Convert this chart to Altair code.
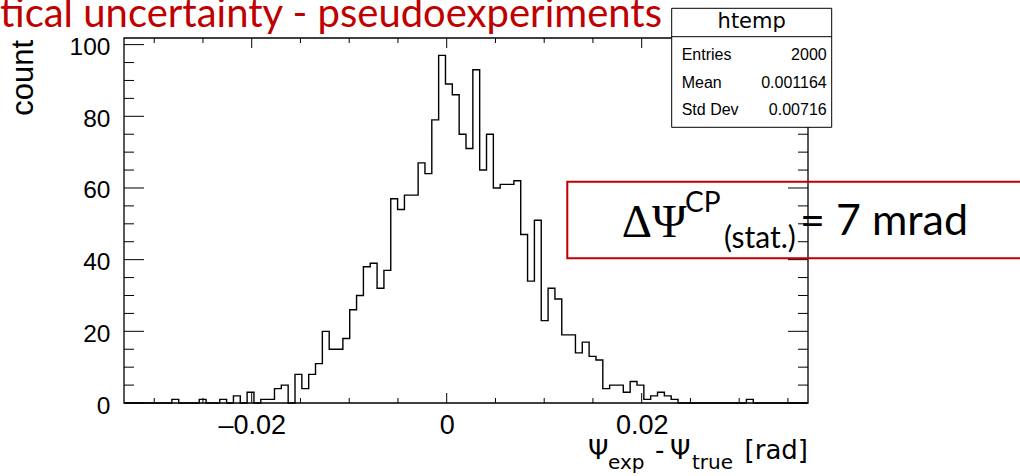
import altair as alt
import pandas as pd
import numpy as np

# ---------------- data ----------------
XMIN = -0.03310
XMAX = 0.03706
YMAX = 101.85
COUNTS = [
    0, 0, 0, 0, 0, 0, 0, 1, 0, 0,
    0, 1, 0, 0, 1, 0, 2, 0, 3, 0,
    1, 1, 4, 5, 0, 8, 4, 8, 11, 20,
    15, 15, 18, 26, 30, 38, 39, 32, 37, 57,
    54, 58, 58, 67, 64, 79, 97, 89, 86, 75,
    71, 93, 65, 75, 60, 61, 61, 62, 47, 34,
    51, 23, 32, 29, 19, 19, 14, 17, 13, 12,
    4, 5, 5, 3, 6, 5, 1, 2, 3, 2,
    1, 0, 0, 0, 0, 0, 0, 0, 0, 0,
    0, 1, 0, 0, 0, 0, 0, 0, 0, 0,
]
X_MAJOR = [-0.02, 0.0, 0.02]
X_MINOR = [-0.03, -0.025, -0.015, -0.01, -0.005, 0.005, 0.01, 0.015, 0.025, 0.03, 0.035]
Y_MAJOR = [0, 20, 40, 60, 80, 100]
Y_MINOR = [5, 10, 15, 25, 30, 35, 45, 50, 55, 65, 70, 75, 85, 90, 95]
STATS_NAME = "htemp"
STATS_ROWS = ["Entries", "Mean", "Std Dev"]
STATS_VALS = ["2000", "0.001164", "0.00716"]
TITLE_TEXT = "tical uncertainty - pseudoexperiments"
Y_TITLE = "count"

W, H = 684, 365
RED = "#C00000"
ROOTFONT = "DejaVu Sans"
LABFONT = "Liberation Sans"

edges = np.linspace(XMIN, XMAX, len(COUNTS) + 1)
hist = pd.DataFrame({"x": edges, "y": COUNTS + [COUNTS[-1]]})
one = pd.DataFrame({"a": [0]})

xs = alt.Scale(domain=[XMIN, XMAX], nice=False, zero=False)
ys = alt.Scale(domain=[0, YMAX], nice=False, zero=True)
xaxis = alt.Axis(values=X_MAJOR, title=None, ticks=False, domain=False, grid=False,
                 labelFont=LABFONT, labelFontSize=27, labelColor="black", labelPadding=9,
                 labelExpr="datum.value == 0 ? '0' : (datum.value < 0 ? '\u2013' : '') + format(abs(datum.value), '.2f')")
yaxis = alt.Axis(values=Y_MAJOR, title=None, ticks=False, domain=False, grid=False,
                 labelFont=LABFONT, labelFontSize=24.5, labelColor="black", labelPadding=14,
                 labelOffset=3)

layers = []

# frame
layers.append(alt.Chart(one).mark_rect(fillOpacity=0, stroke="black", strokeWidth=1.3).encode(
    x=alt.value(0), x2=alt.value(W), y=alt.value(0), y2=alt.value(H)))

# ticks (inward, all four sides)
def xticks(vals, length):
    d = pd.DataFrame({"v": vals})
    bot = alt.Chart(d).mark_rule(color="black", strokeWidth=1).encode(
        x=alt.X("v:Q", scale=xs, axis=xaxis), y=alt.value(H), y2=alt.value(H - length))
    top = alt.Chart(d).mark_rule(color="black", strokeWidth=1).encode(
        x=alt.X("v:Q", scale=xs, axis=xaxis), y=alt.value(0), y2=alt.value(length))
    return [bot, top]

def yticks(vals, length):
    d = pd.DataFrame({"v": vals})
    left = alt.Chart(d).mark_rule(color="black", strokeWidth=1).encode(
        y=alt.Y("v:Q", scale=ys, axis=yaxis), x=alt.value(0), x2=alt.value(length))
    right = alt.Chart(d).mark_rule(color="black", strokeWidth=1).encode(
        y=alt.Y("v:Q", scale=ys, axis=yaxis), x=alt.value(W - length), x2=alt.value(W))
    return [left, right]

layers += xticks(X_MAJOR, 10) + xticks(X_MINOR, 5)
layers += yticks(Y_MAJOR, 20) + yticks(Y_MINOR, 10)

# histogram outline
layers.append(alt.Chart(hist).mark_line(interpolate="step-after", color="black", strokeWidth=1.4).encode(
    x=alt.X("x:Q", scale=xs, axis=xaxis), y=alt.Y("y:Q", scale=ys, axis=yaxis)))


def txt(s, x, y, size, font, color="black", align="left", baseline="alphabetic", angle=0):
    return alt.Chart(one).mark_text(text=s, font=font, fontSize=size, color=color, align=align,
                                    baseline=baseline, angle=angle).encode(
        x=alt.value(x), y=alt.value(y))

# red annotation box
layers.append(alt.Chart(one).mark_rect(fillOpacity=0, stroke=RED, strokeWidth=2).encode(
    x=alt.value(443.3), x2=alt.value(910), y=alt.value(143.7), y2=alt.value(220.3)))
layers.append(txt("\u0394\u03a8", 497.7, 198.7, 47, "Liberation Serif"))
layers.append(txt("CP", 561, 174, 28, "Lato"))
layers.append(txt("(stat.)", 600, 210, 30, "Lato"))
layers.append(txt("= 7 mrad", 676, 197, 43, "Lato"))

# stats box
layers.append(alt.Chart(one).mark_rect(fill="white", stroke="black", strokeWidth=1).encode(
    x=alt.value(547.7), x2=alt.value(707.7), y=alt.value(-29.7), y2=alt.value(89.3)))
layers.append(alt.Chart(one).mark_rule(color="black", strokeWidth=1).encode(
    x=alt.value(547.7), x2=alt.value(707.7), y=alt.value(-1.3)))
layers.append(txt(STATS_NAME, 627.7, -10, 21, ROOTFONT, align="center"))
for i, (lab, val) in enumerate(zip(STATS_ROWS, STATS_VALS)):
    yb = [22, 50.3, 77][i]
    layers.append(txt(lab, 557.7, yb, 16, "Liberation Sans"))
    layers.append(txt(val, 702.7, yb, 16, "Liberation Sans", align="right"))

# titles
layers.append(txt(TITLE_TEXT, -124, -11, 40, "Lato", color=RED))
layers.append(txt(Y_TITLE, -90.7, 2, 31, LABFONT, align="right", angle=270))
layers.append(txt("\u03a8", 464, 421, 26, ROOTFONT))
layers.append(txt("exp", 484, 431, 20, ROOTFONT))
layers.append(txt("-", 531, 421, 26, ROOTFONT))
layers.append(txt("\u03a8", 546, 421, 26, ROOTFONT))
layers.append(txt("true", 568, 431, 20, ROOTFONT))
layers.append(txt("[rad]", 684, 421, 26, ROOTFONT, align="right"))

chart = alt.layer(*layers).properties(
    width=W, height=H,
    autosize=alt.AutoSizeParams(type="none"),
    padding={"left": 124, "top": 38, "right": 212, "bottom": 73},
    background="white",
).configure_view(strokeWidth=0)

chart.save("out.html", embed_options={"renderer": "svg", "actions": False})
